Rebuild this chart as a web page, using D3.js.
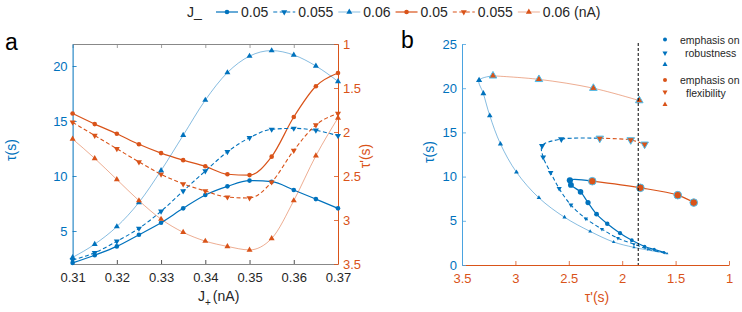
<!DOCTYPE html>
<html>
<head>
<meta charset="utf-8">
<script src="https://cdn.jsdelivr.net/npm/d3@7"></script>
<style>
    body { margin: 0; background: #fff; }
    svg { display: block; font-family: "Liberation Sans", Arial, sans-serif; }
</style>
</head>
<body>
<svg id="chart" width="742" height="312"></svg>
<script>
// J+ (nA) values; panel a shows 0.31 to 0.37, panel b also 0.30 and 0.305
const jPlus = [0.30, 0.305, 0.31, 0.315, 0.32, 0.325, 0.33, 0.335, 0.34, 0.345, 0.35, 0.355, 0.36, 0.365, 0.37]
const jMinus = ["0.05", "0.055", "0.06"]

// tau (s) for each J_
const tau05 = [1.43, 1.76, 2.1, 2.8, 3.6, 4.66, 5.75, 7.06, 8.27, 9.06, 9.58, 9.48, 8.73, 7.9, 7.06]
const tau055 = [1.36, 1.8, 2.36, 3.03, 4.06, 5.24, 6.79, 8.64, 10.45, 12.2, 13.48, 14.24, 14.33, 14.15, 13.66]
const tau06 = [1.3, 2.0, 2.6, 3.8, 5.4, 7.6, 10.5, 13.7, 16.9, 19.4, 20.9, 21.4, 21.0, 20.0, 18.6]

// tau' (s) for each J_
const tauP05 = [1.61, 1.70, 1.79, 1.91, 2.02, 2.14, 2.24, 2.32, 2.39, 2.48, 2.49, 2.28, 1.83, 1.48, 1.33]
const tauP055 = [1.60, 1.76, 1.89, 2.04, 2.19, 2.34, 2.48, 2.59, 2.67, 2.74, 2.75, 2.57, 2.21, 1.92, 1.79]
const tauP06 = [1.58, 1.89, 2.08, 2.30, 2.54, 2.78, 2.99, 3.14, 3.24, 3.30, 3.34, 3.21, 2.78, 2.27, 1.84]

// first J+ that counts as "emphasis on flexibility" in panel b
const flexStart = [0.355, 0.36, 0.355]
const tauPThreshold = 1.85

const jTicks = [0.31, 0.32, 0.33, 0.34, 0.35, 0.36, 0.37]
const tauTicksA = [5, 10, 15, 20]
const tauPTicksA = [1, 1.5, 2, 2.5, 3, 3.5]
const tauTicksB = [0, 5, 10, 15, 20, 25]
const tauPTicksB = [3.5, 3, 2.5, 2, 1.5, 1]

const blue = "#0072BD"
const orange = "#D95319"
const cyan = "#4DBEEE"

const styles = [
    { shape: "circle", dash: null, width: 1.2, opacity: 1 },
    { shape: "down", dash: "4,2.5", width: 1.1, opacity: 1 },
    { shape: "up", dash: null, width: 0.8, opacity: 0.6 }
]
const tauSets = [tau05, tau055, tau06]
const tauPSets = [tauP05, tauP055, tauP06]

const series = jMinus.map((name, i) => ({
    name: name,
    style: styles[i],
    flex: flexStart[i],
    points: jPlus.map((j, k) => ({ j: j, tau: tauSets[i][k], tauP: tauPSets[i][k] }))
}))

const svg = d3.select("#chart")

function marker(shape, d) {
    if (shape === "circle") return d3.symbol(d3.symbolCircle, Math.PI * d * d / 4)()
    return d3.symbol(d3.symbolTriangle, Math.sqrt(3) / 4 * d * d)()
}
function markerTransform(shape, x, y) {
    return shape === "down" ? `translate(${x},${y}) rotate(180)` : `translate(${x},${y})`
}

function styleAxis(g, color, size) {
    g.attr("font-family", null).attr("font-size", size || 13).attr("color", color)
    g.selectAll("line").attr("stroke-width", 0.8)
}

// ---------------- panel a ----------------
const xA = d3.scaleLinear().domain([0.31, 0.37]).range([72.6, 338])
const yA = d3.scaleLinear().domain([2, 22]).range([264, 44])
const yA2 = d3.scaleLinear().domain([1, 3.5]).range([44, 264])

const panelA = svg.append("g")

panelA.append("g")
    .attr("transform", "translate(0,44)")
    .call(d3.axisTop(xA).tickValues(jTicks).tickSize(-4).tickSizeOuter(0).tickFormat(""))
    .call(g => styleAxis(g, "#888"))
panelA.append("g")
    .attr("transform", "translate(0,264)")
    .call(d3.axisBottom(xA).tickValues(jTicks).tickSize(-4).tickSizeOuter(0).tickPadding(9).tickFormat(d3.format(".2f")))
    .call(g => styleAxis(g, "#262626"))
    .call(g => g.select(".domain").attr("stroke", "#888"))
panelA.append("g")
    .attr("transform", "translate(72.6,0)")
    .call(d3.axisLeft(yA).tickValues(tauTicksA).tickSize(-4).tickSizeOuter(0).tickPadding(5))
    .call(g => styleAxis(g, blue))
panelA.append("g")
    .attr("transform", "translate(338,0)")
    .call(d3.axisRight(yA2).tickValues(tauPTicksA).tickSize(-4).tickSizeOuter(0).tickPadding(5).tickFormat(d3.format("~g")))
    .call(g => styleAxis(g, orange))

const aData = s => s.points.filter(p => p.j >= 0.31 - 1e-9)

const lineTauA = d3.line().x(p => xA(p.j)).y(p => yA(p.tau)).curve(d3.curveMonotoneX)
const lineTauPA = d3.line().x(p => xA(p.j)).y(p => yA2(p.tauP)).curve(d3.curveMonotoneX)

series.forEach(s => {
    [[lineTauA, blue, p => yA(p.tau)], [lineTauPA, orange, p => yA2(p.tauP)]].forEach(([gen, color, yv]) => {
        panelA.append("path")
            .datum(aData(s))
            .attr("fill", "none")
            .attr("stroke", color)
            .attr("stroke-width", s.style.width)
            .attr("stroke-opacity", s.style.opacity)
            .attr("stroke-dasharray", s.style.dash)
            .attr("d", gen)
        panelA.append("g")
            .selectAll("path")
            .data(aData(s))
            .join("path")
            .attr("d", marker(s.style.shape, s.style.shape === "circle" ? 4.6 : 6))
            .attr("transform", p => markerTransform(s.style.shape, xA(p.j), yv(p)))
            .attr("fill", color)
    })
})

panelA.append("text")
    .attr("transform", "translate(16,150) rotate(-90)")
    .attr("text-anchor", "middle")
    .attr("font-size", 14)
    .attr("fill", blue)
    .text("τ(s)")
panelA.append("text")
    .attr("transform", "translate(370,156) rotate(-90)")
    .attr("text-anchor", "middle")
    .attr("font-size", 14)
    .attr("fill", orange)
    .text("τ'(s)")
const jLabel = panelA.append("text")
    .attr("x", 198)
    .attr("y", 301)
    .attr("font-size", 14)
    .attr("fill", "#262626")
jLabel.append("tspan").text("J")
jLabel.append("tspan").attr("dy", 5).attr("font-size", 10).text("+")
jLabel.append("tspan").attr("dy", -5).attr("dx", 2).text("(nA)")

svg.append("text").attr("x", 5).attr("y", 50).attr("font-size", 23).attr("fill", "#000").text("a")
svg.append("text").attr("x", 401).attr("y", 48).attr("font-size", 23).attr("fill", "#000").text("b")

// ---------------- panel b ----------------
const xB = d3.scaleLinear().domain([3.5, 1]).range([462, 729])
const yB = d3.scaleLinear().domain([0, 25]).range([265, 44])
const sizeB = d3.scaleLinear().domain([0.30, 0.37]).range([2.8, 7.6])

const panelB = svg.append("g")

panelB.append("g")
    .attr("transform", "translate(0,265)")
    .call(d3.axisBottom(xB).tickValues(tauPTicksB).tickSize(-4).tickSizeOuter(0).tickPadding(9).tickFormat(d3.format("~g")))
    .call(g => styleAxis(g, orange))
panelB.append("g")
    .attr("transform", "translate(462,0)")
    .call(d3.axisLeft(yB).tickValues(tauTicksB).tickSize(-4).tickSizeOuter(0).tickPadding(5))
    .call(g => styleAxis(g, blue))
    .call(g => g.selectAll("line, .domain").attr("stroke", "#4aa3e0"))

const lineB = d3.line().x(p => xB(p.tauP)).y(p => yB(p.tau)).curve(d3.curveCatmullRom.alpha(0.5))
const eps = 1e-9

series.forEach(s => {
    const bluePart = s.points.filter(p => p.j <= s.flex + eps)
    const orangePart = s.points.filter(p => p.j >= s.flex - eps)
    ;[[bluePart, blue], [orangePart, orange]].forEach(([pts, color]) => {
        panelB.append("path")
            .datum(pts)
            .attr("fill", "none")
            .attr("stroke", color)
            .attr("stroke-width", s.style.width)
            .attr("stroke-opacity", s.style.opacity)
            .attr("stroke-dasharray", s.style.dash)
            .attr("d", lineB)
    })
})

series.forEach(s => {
    panelB.append("g")
        .selectAll("path")
        .data(s.points)
        .join("path")
        .attr("d", p => marker(s.style.shape, p.j >= s.flex - eps ? 7.6 : sizeB(p.j)))
        .attr("transform", p => markerTransform(s.style.shape, xB(p.tauP), yB(p.tau)))
        .attr("fill", p => p.j >= s.flex - eps ? orange : blue)
        .attr("stroke", p => p.j >= s.flex - eps ? cyan : "none")
        .attr("stroke-width", 1)
})

panelB.append("line")
    .attr("x1", xB(tauPThreshold)).attr("x2", xB(tauPThreshold))
    .attr("y1", 43).attr("y2", 265)
    .attr("stroke", "#000")
    .attr("stroke-width", 1)
    .attr("stroke-dasharray", "3,2")

panelB.append("text")
    .attr("transform", "translate(434,152) rotate(-90)")
    .attr("text-anchor", "middle")
    .attr("font-size", 14)
    .attr("fill", blue)
    .text("τ(s)")
panelB.append("text")
    .attr("x", 597)
    .attr("y", 302)
    .attr("text-anchor", "middle")
    .attr("font-size", 14)
    .attr("fill", orange)
    .text("τ'(s)")

// panel b legend
const legendB = panelB.append("g").attr("font-size", 10.5).attr("fill", "#262626")
const legendRows = [
    { shape: "circle", color: blue, y: 39.5 },
    { shape: "down", color: blue, y: 53 },
    { shape: "up", color: blue, y: 64.5 },
    { shape: "circle", color: orange, y: 80 },
    { shape: "down", color: orange, y: 92 },
    { shape: "up", color: orange, y: 104.5 }
]
legendB.selectAll("path")
    .data(legendRows)
    .join("path")
    .attr("d", d => marker(d.shape, d.shape === "circle" ? 4 : 5))
    .attr("transform", d => markerTransform(d.shape, 665, d.y))
    .attr("fill", d => d.color)
legendB.append("text").attr("x", 680).attr("y", 43.5).text("emphasis on")
legendB.append("text").attr("x", 685).attr("y", 57).text("robustness")
legendB.append("text").attr("x", 680).attr("y", 84).text("emphasis on")
legendB.append("text").attr("x", 686).attr("y", 97).text("flexibility")

// top legend
const legendTop = svg.append("g").attr("font-size", 14).attr("fill", "#262626")
legendTop.append("text").attr("x", 187).attr("y", 17).text("J_")
let cursor = 216
const legendItems = [
    ...series.map(s => ({ s: s, color: blue, label: s.name })),
    ...series.map((s, i) => ({ s: s, color: orange, label: i === 2 ? s.name + " (nA)" : s.name }))
]
legendItems.forEach(item => {
    const st = item.s.style
    legendTop.append("line")
        .attr("x1", cursor).attr("x2", cursor + 22)
        .attr("y1", 12).attr("y2", 12)
        .attr("stroke", item.color)
        .attr("stroke-width", st.width)
        .attr("stroke-opacity", st.opacity)
        .attr("stroke-dasharray", st.dash)
    legendTop.append("path")
        .attr("d", marker(st.shape, st.shape === "circle" ? 4.6 : 6))
        .attr("transform", markerTransform(st.shape, cursor + 11, 12))
        .attr("fill", item.color)
    const t = legendTop.append("text").attr("x", cursor + 25).attr("y", 17).text(item.label)
    cursor += 25 + t.node().getComputedTextLength() + 5
})
</script>
</body>
</html>
